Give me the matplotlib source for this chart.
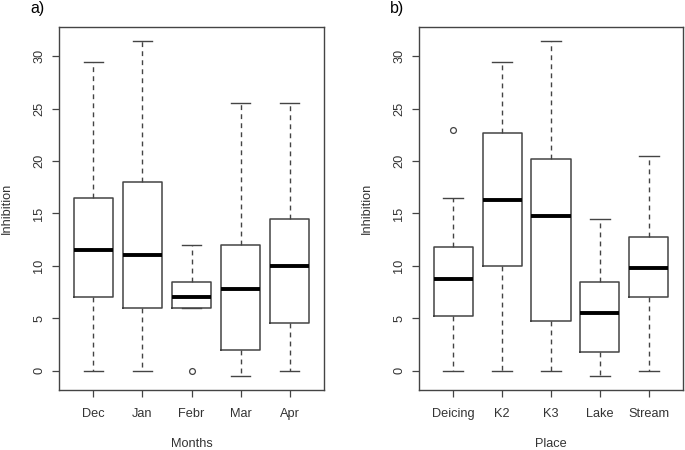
import matplotlib
matplotlib.use("Agg")
import matplotlib.pyplot as plt

plt.rcParams['font.family'] = ['Liberation Sans', 'DejaVu Sans']

# Panel a: Months
months = ["Dec", "Jan", "Febr", "Mar", "Apr"]
m_whislo = [0, 0, 6, -0.55, 0]
m_q1 = [7, 6, 6, 2, 4.5]
m_med = [11.5, 11, 7, 7.75, 10]
m_q3 = [16.5, 18, 8.5, 12, 14.5]
m_whishi = [29.5, 31.5, 12, 25.5, 25.5]
m_fliers = [[], [], [0], [], []]

# Panel b: Place
places = ["Deicing", "K2", "K3", "Lake", "Stream"]
p_whislo = [0, 0, 0, -0.55, 0]
p_q1 = [5.25, 10, 4.75, 1.75, 7]
p_med = [8.75, 16.25, 14.75, 5.5, 9.75]
p_q3 = [11.8, 22.7, 20.2, 8.5, 12.75]
p_whishi = [16.5, 29.5, 31.5, 14.5, 20.5]
p_fliers = [[23], [], [], [], []]

yticks = [0, 5, 10, 15, 20, 25, 30]

TEXT = "#333333"
LINE = "#444444"
FS = 9.2
W, H = 685, 450

fig = plt.figure(figsize=(6.85, 4.5), dpi=100)
ax_a = fig.add_axes([59/W, 1-390/H, (324-59)/W, (390-27)/H])
ax_b = fig.add_axes([419/W, 1-390/H, (683-419)/W, (390-27)/H])


def draw(ax, labels, lo, q1, med, q3, hi, fl, xlabel, tag, left_px):
    stats = []
    for i, lab in enumerate(labels):
        stats.append(dict(label=lab, whislo=lo[i], q1=q1[i], med=med[i],
                          q3=q3[i], whishi=hi[i], fliers=fl[i]))
    ax.bxp(stats, positions=range(1, len(labels)+1), widths=0.8,
           capwidths=0.4, showfliers=True, patch_artist=False,
           boxprops=dict(color=LINE, linewidth=1.1),
           medianprops=dict(color="black", linewidth=2.8, solid_capstyle="butt"),
           whiskerprops=dict(color=LINE, linewidth=1.0, linestyle=(0, (3.5, 3))),
           capprops=dict(color=LINE, linewidth=1.0),
           flierprops=dict(marker="o", markerfacecolor="none",
                           markeredgecolor=LINE, markersize=4.2, markeredgewidth=0.9))
    ax.set_xlim(0.3, 5.7)
    ax.set_ylim(-1.85, 32.8)
    ax.set_yticks(yticks)
    ax.set_yticklabels([str(t) for t in yticks], rotation=90, va="center")
    ax.tick_params(axis="both", direction="out", length=5, width=0.9,
                   color=LINE, labelcolor=TEXT, labelsize=FS)
    ax.tick_params(axis="x", pad=8)
    ax.tick_params(axis="y", pad=5)
    for s in ax.spines.values():
        s.set_color(LINE)
        s.set_linewidth(1.0)
    bb = ax.get_position()
    cx = (bb.x0 + bb.x1) / 2
    fig.text(cx, 1-444/H, xlabel, color=TEXT, fontsize=FS, ha="center", va="center")
    fig.text((left_px-52)/W, (bb.y0 + bb.y1) / 2, "Inhibition", color=TEXT, fontsize=FS,
             rotation=90, ha="center", va="center")
    fig.text((left_px-29)/W, 1-8/H, tag, fontsize=11.5, color="black",
             ha="left", va="center")


draw(ax_a, months, m_whislo, m_q1, m_med, m_q3, m_whishi, m_fliers, "Months", "a)", 59)
draw(ax_b, places, p_whislo, p_q1, p_med, p_q3, p_whishi, p_fliers, "Place", "b)", 419)

fig.savefig("out.png", dpi=100)
